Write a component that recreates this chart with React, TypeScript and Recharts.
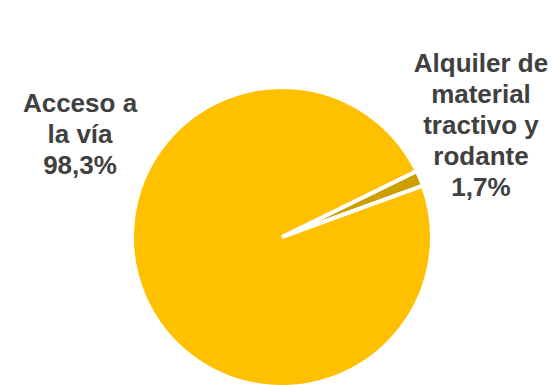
import { PieChart, Pie, Cell } from "recharts";

const categories = ["Alquiler de material tractivo y rodante", "Acceso a la vía"];
const shares = [1.7, 98.3];
const labelLines = [
  ["Alquiler de", "material", "tractivo y", "rodante"],
  ["Acceso a", "la vía"],
];
const colors = ["#CCA000", "#FFC000"];

// where each label block sits, relative to the pie centre
const labelOffsets = [
  { dx: 199, dy: -174 },
  { dx: -202, dy: -134 },
];

const data = categories.map((name, i) => ({ name, value: shares[i] }));

const fmt = (v: number) => v.toFixed(1).replace(".", ",") + "%";

const renderLabel = (props: any) => {
  const { cx, cy, index, value } = props;
  const off = labelOffsets[index];
  const lines = [...labelLines[index], fmt(value)];
  return (
    <text
      x={cx + off.dx}
      y={cy + off.dy}
      textAnchor="middle"
      fill="#404040"
      fontSize={26}
      fontWeight="bold"
      fontFamily="'Liberation Sans', Arial, sans-serif"
    >
      {lines.map((l, i) => (
        <tspan key={i} x={cx + off.dx} dy={i === 0 ? "0.35em" : 31}>
          {l}
        </tspan>
      ))}
    </text>
  );
};

const App = () => {
  return (
    <div style={{ position: "fixed", left: 0, top: 0, background: "#fff" }}>
      <PieChart width={552} height={385} margin={{ top: 0, right: 0, bottom: 0, left: 0 }}>
        <Pie
          data={data}
          dataKey="value"
          cx={282}
          cy={237}
          outerRadius={150}
          startAngle={20}
          endAngle={380}
          stroke="#fff"
          strokeWidth={4}
          label={renderLabel}
          labelLine={false}
          isAnimationActive={false}
        >
          {data.map((d, i) => (
            <Cell key={d.name} fill={colors[i]} />
          ))}
        </Pie>
      </PieChart>
    </div>
  );
};

export default App;
